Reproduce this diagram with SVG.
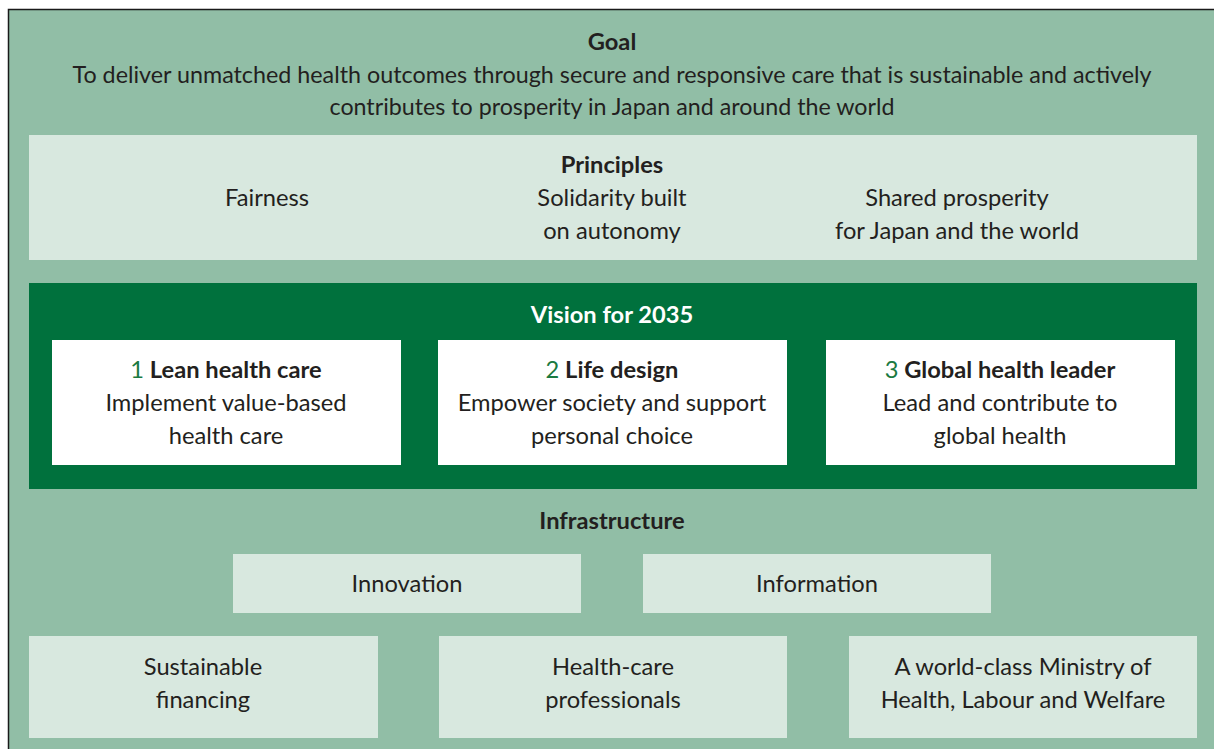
<svg xmlns="http://www.w3.org/2000/svg" width="1214" height="749" viewBox="0 0 1214 749">
  <style>
    text { font-family: Lato, "Open Sans", "Liberation Sans", sans-serif; font-size: 23.7px; fill: #231f20; text-anchor: middle; }
    .b { font-weight: bold; }
    .num { fill: #1b7a41; font-weight: normal; }
    .w { fill: #ffffff; }
    .light { fill: #d8e8df; }
    .card { fill: #ffffff; }
  </style>
  <rect x="0" y="0" width="1214" height="749" fill="#ffffff"/>
  <!-- outer panel -->
  <rect id="panel" x="8" y="9" width="1206" height="740" fill="#91bea6"/>
  <path d="M8.5 749 V9.5 H1214" fill="none" stroke="#1a1a1a" stroke-width="1.5"/>

  <g id="goal">
    <text class="b" x="612" y="50">Goal</text>
    <text x="612" y="83" textLength="1079" lengthAdjust="spacingAndGlyphs">To deliver unmatched health outcomes through secure and responsive care that is sustainable and actively</text>
    <text x="612" y="115" textLength="565" lengthAdjust="spacingAndGlyphs">contributes to prosperity in Japan and around the world</text>
  </g>

  <g id="principles">
    <rect class="light" x="29" y="135" width="1168" height="125"/>
    <text class="b" x="612" y="173">Principles</text>
    <text x="267" y="206">Fairness</text>
    <text x="612" y="206">Solidarity built</text>
    <text x="612" y="239">on autonomy</text>
    <text x="957" y="206">Shared prosperity</text>
    <text x="957" y="239">for Japan and the world</text>
  </g>

  <g id="vision">
    <rect x="29" y="283" width="1168" height="206" fill="#00713d"/>
    <text class="b w" x="612" y="323">Vision for 2035</text>
  </g>

  <g id="lean-health-care">
    <rect class="card" x="52" y="340" width="349" height="125"/>
    <text class="b" x="226" y="378"><tspan class="num">1</tspan> Lean health care</text>
    <text x="226" y="411">Implement value-based</text>
    <text x="226" y="444">health care</text>
  </g>

  <g id="life-design">
    <rect class="card" x="438" y="340" width="349" height="125"/>
    <text class="b" x="612" y="378"><tspan class="num">2</tspan> Life design</text>
    <text x="612" y="411">Empower society and support</text>
    <text x="612" y="444">personal choice</text>
  </g>

  <g id="global-health-leader">
    <rect class="card" x="826" y="340" width="349" height="125"/>
    <text class="b" x="1000" y="378"><tspan class="num">3</tspan> Global health leader</text>
    <text x="1000" y="411">Lead and contribute to</text>
    <text x="1000" y="444">global health</text>
  </g>

  <g id="infrastructure">
    <text class="b" x="612" y="529">Infrastructure</text>
  </g>

  <g id="innovation">
    <rect class="light" x="233" y="554" width="348" height="59"/>
    <text x="407" y="592">Innovation</text>
  </g>

  <g id="information">
    <rect class="light" x="643" y="554" width="348" height="59"/>
    <text x="817" y="592">Information</text>
  </g>

  <g id="sustainable-financing">
    <rect class="light" x="29" y="636" width="349" height="102"/>
    <text x="203" y="675">Sustainable</text>
    <text x="203" y="708">financing</text>
  </g>

  <g id="health-care-professionals">
    <rect class="light" x="439" y="636" width="348" height="102"/>
    <text x="613" y="675">Health-care</text>
    <text x="613" y="708">professionals</text>
  </g>

  <g id="ministry">
    <rect class="light" x="849" y="636" width="348" height="102"/>
    <text x="1023" y="675">A world-class Ministry of</text>
    <text x="1023" y="708">Health, Labour and Welfare</text>
  </g>

  <!-- no connectors in this layout -->
  <g id="connectors"/>
</svg>
